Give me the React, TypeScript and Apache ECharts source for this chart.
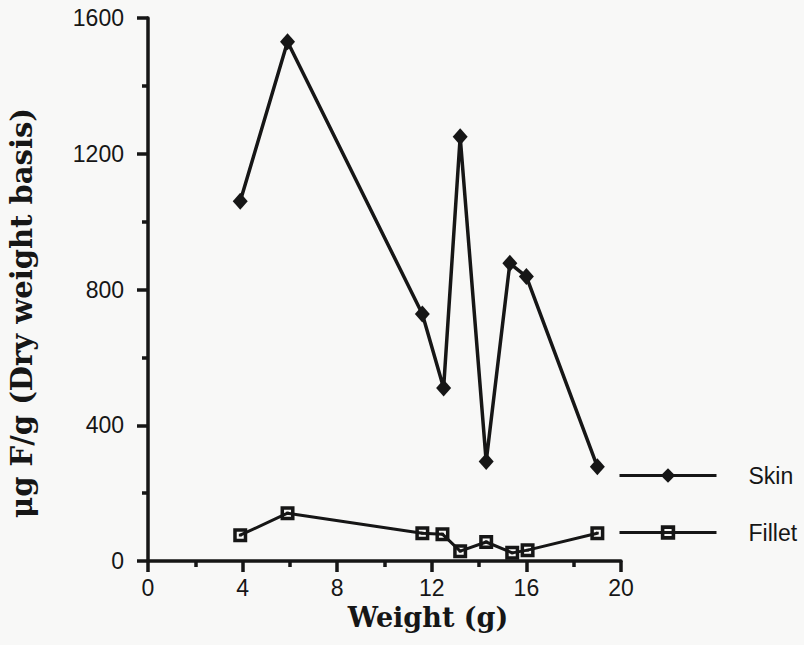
import React, { useEffect, useRef } from "react";
import * as echarts from "echarts";

const skinX = [3.9, 5.9, 11.6, 12.5, 13.2, 14.3, 15.3, 16.0, 19.0];
const skinY = [1060, 1530, 728, 510, 1250, 293, 877, 838, 278];
const filletX = [3.9, 5.9, 11.6, 12.45, 13.2, 14.3, 15.4, 16.05, 19.0];
const filletY = [76, 141, 82, 79, 29, 56, 24, 32, 82];
const seriesNames = ["Skin", "Fillet"];
const xTitle = "Weight (g)";
const yTitle = "\u03bcg F/g (Dry weight basis)";

const INK = "#161616";
const SQUARE = "path://M0,0H20V20H0Z M5,5V15H15V5Z M8,8H12V12H8Z";
const SANS = "Liberation Sans, Arial, sans-serif";

export default function App() {
  const ref = useRef<HTMLDivElement>(null);
  useEffect(() => {
    if (!ref.current) return;
    const chart = echarts.init(ref.current, null, { renderer: "svg" });
    const pairs = (xs: number[], ys: number[]) => xs.map((x, i) => [x, ys[i]]);
    chart.setOption({
      animation: false,
      backgroundColor: "#f8f8f7",
      grid: { left: 148, right: 183, top: 18, bottom: 84, containLabel: false },
      xAxis: {
        type: "value",
        min: 0,
        max: 20,
        interval: 4,
        axisLine: { onZero: false, lineStyle: { color: INK, width: 3.5 } },
        axisTick: { show: true, inside: false, length: 11, lineStyle: { color: INK, width: 3.5 } },
        minorTick: { show: true, splitNumber: 2, length: 6, lineStyle: { color: INK, width: 3.5 } },
        splitLine: { show: false },
        axisLabel: {
          margin: 15,
          color: INK,
          fontSize: 23,
          fontFamily: SANS,
          formatter: (v: number) => String(v),
        },
      },
      yAxis: {
        type: "value",
        min: 0,
        max: 1600,
        interval: 400,
        axisLine: { show: true, lineStyle: { color: INK, width: 3.5 } },
        axisTick: { show: true, inside: false, length: 11, lineStyle: { color: INK, width: 3.5 } },
        minorTick: { show: true, splitNumber: 2, length: 6, lineStyle: { color: INK, width: 3.5 } },
        splitLine: { show: false },
        axisLabel: {
          margin: 24,
          color: INK,
          fontSize: 23,
          fontFamily: SANS,
          formatter: (v: number) => String(v),
        },
      },
      legend: {
        orient: "vertical",
        left: 618,
        top: 464,
        padding: 0,
        itemWidth: 97,
        itemHeight: 18,
        itemGap: 34,
        data: seriesNames,
        lineStyle: { width: 3 },
        textStyle: {
          color: INK,
          fontSize: 23,
          fontFamily: SANS,
          padding: [0, 0, 0, 27],
        },
      },
      graphic: [
        {
          type: "text",
          x: 428,
          y: 617,
          style: {
            text: xTitle,
            fill: INK,
            font: "bold 27px 'DejaVu Serif', serif",
            textAlign: "center",
            textVerticalAlign: "middle",
          },
        },
        {
          type: "text",
          x: 22,
          y: 313,
          rotation: Math.PI / 2,
          style: {
            text: yTitle,
            fill: INK,
            font: "bold 29px 'DejaVu Serif', serif",
            textAlign: "center",
            textVerticalAlign: "middle",
          },
        },
      ],
      series: [
        {
          name: seriesNames[0],
          type: "line",
          data: pairs(skinX, skinY),
          symbol: "diamond",
          symbolSize: [15, 17],
          showAllSymbol: true,
          lineStyle: { color: INK, width: 3.5 },
          itemStyle: { color: INK },
          z: 3,
        },
        {
          name: seriesNames[1],
          type: "line",
          data: pairs(filletX, filletY),
          symbol: SQUARE,
          symbolSize: 14,
          showAllSymbol: true,
          lineStyle: { color: INK, width: 3 },
          itemStyle: { color: INK },
          z: 3,
        },
      ],
    });
    return () => chart.dispose();
  }, []);
  return (
    <div
      ref={ref}
      style={{ position: "absolute", left: 0, top: 0, width: 804, height: 645 }}
    />
  );
}
